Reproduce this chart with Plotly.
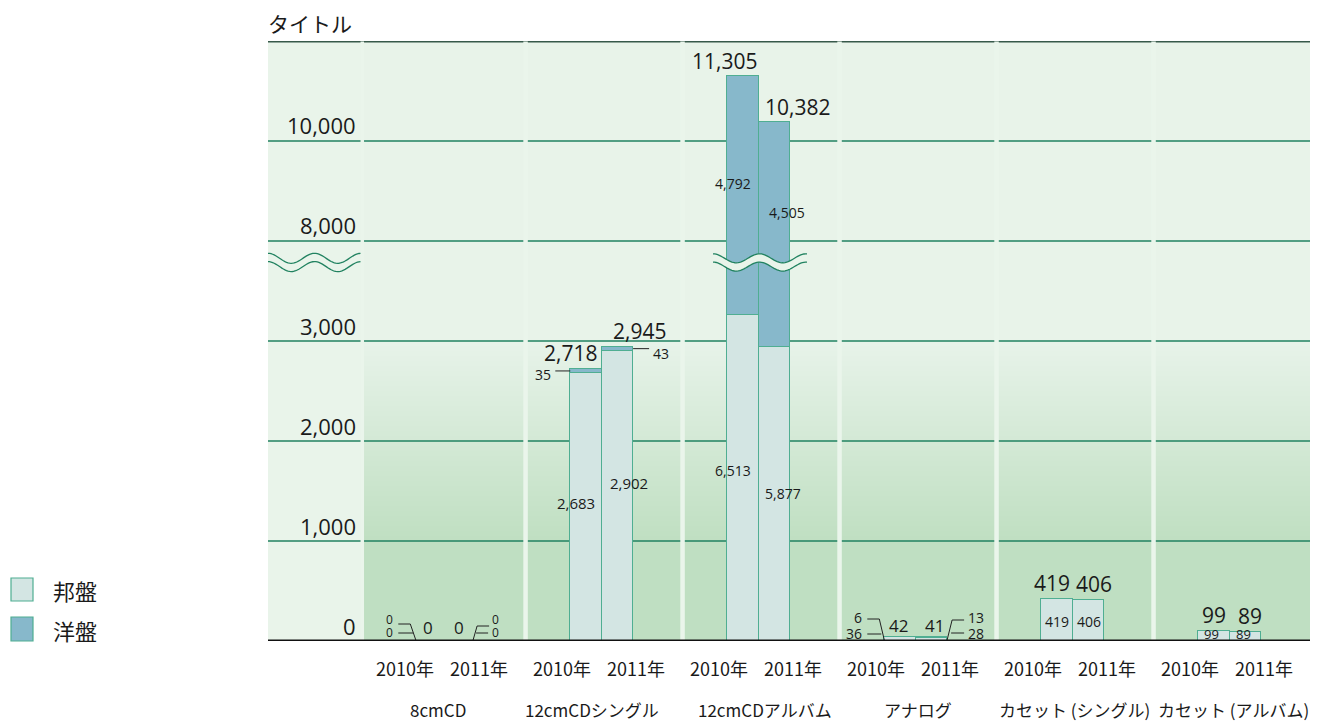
import math
import plotly.graph_objects as go

# ---------------- data ----------------
categories = ["8cmCD", "12cmCDシングル", "12cmCDアルバム", "アナログ",
              "カセット (シングル)", "カセット (アルバム)"]
years = ["2010年", "2011年"]
series_names = ["邦盤", "洋盤"]
domestic_2010 = [0, 2683, 6513, 36, 419, 99]
domestic_2011 = [0, 2902, 5877, 28, 406, 89]
foreign_2010 = [0, 35, 4792, 6, 0, 0]
foreign_2011 = [0, 43, 4505, 13, 0, 0]
y_ticks_lower = [0, 1000, 2000, 3000]      # drawn on the full scale
y_ticks_upper = [8000, 10000]              # drawn on the half scale (above the break)
y_top_upper = 12000
title_text = "タイトル"
upper_groups = [2]                          # categories drawn on the half scale

# ---------------- geometry / styles ----------------
PAGE_OFF = 8                     # default body margin of the html page
W, H = 1304, 714
ML, MT, PW, PH = 260, 33, 1042, 600
MR = W - ML - PW
MB = H - MT - PH
XMIN, XMAX = -1.1255, 5.5115
UX = (XMAX - XMIN) / PW          # x units per pixel
Y1MAX, Y2MAX = 6000, 12000
UY1, UY2 = Y1MAX / PH, Y2MAX / PH
BAR_W = 0.2
YEAR_OFF = [-0.1, 0.1]

C_DOM = "#d3e5e3"
C_FRN = "#87b8cb"
C_EDGE = "#4fae92"
C_GRID = "#218260"
C_TOPLINE = "#37594a"
C_LABELCOL = "#e9f4ea"
C_TOP = (0xe8, 0xf3, 0xe9)
C_BOT = (0xbf, 0xdf, 0xc2)
C_SEP = "#eaf5eb"
TXT = "#1a1a1a"
NUMFONT = "Open Sans"
JPFONT = "Noto Sans CJK JP"

dom = [domestic_2010, domestic_2011]
frn = [foreign_2010, foreign_2011]


def px_x(px):
    """page pixel x -> paper x"""
    return (px - PAGE_OFF - ML) / PW


def px_y(py):
    """page pixel y -> paper y"""
    return (MT + PH - (py - PAGE_OFF)) / PH


def axis_of(i):
    return "y2" if i in upper_groups else "y"


def unit_y(i):
    return UY2 if i in upper_groups else UY1


def bar_x(i, k):
    return i + YEAR_OFF[k]


def y2_to_y(v):
    return v * Y1MAX / Y2MAX


fig = go.Figure()

# ---------------- bars ----------------
lower_groups = [i for i in range(len(categories)) if i not in upper_groups]
for ax_name, groups in (("y", lower_groups), ("y2", upper_groups)):
    for name, vals, col in ((series_names[0], dom, C_DOM), (series_names[1], frn, C_FRN)):
        xs, ys = [], []
        for i in groups:
            for k in range(2):
                v = vals[k][i]
                xs.append(bar_x(i, k))
                ys.append(v if v else None)
        fig.add_trace(go.Bar(
            x=xs, y=ys, width=BAR_W, name=name, yaxis=ax_name,
            marker=dict(color=col, line=dict(color=C_EDGE, width=1)),
            showlegend=False, hoverinfo="skip"))

shapes = []
annotations = []

# ---------------- background ----------------
col_left = -0.525
shapes.append(dict(type="rect", xref="x", yref="y", x0=XMIN, x1=col_left, y0=0, y1=Y1MAX,
                   fillcolor=C_LABELCOL, line_width=0, layer="below"))
shapes.append(dict(type="rect", xref="x", yref="y", x0=col_left, x1=XMAX, y0=3000, y1=Y1MAX,
                   fillcolor="rgb(%d,%d,%d)" % C_TOP, line_width=0, layer="below"))
shapes.append(dict(type="rect", xref="x", yref="y", x0=col_left, x1=XMAX, y0=0, y1=1000,
                   fillcolor="rgb(%d,%d,%d)" % C_BOT, line_width=0, layer="below"))
NSTRIP = 40
for s in range(NSTRIP):
    t = (s + 0.5) / NSTRIP
    c = tuple(round(C_BOT[j] + (C_TOP[j] - C_BOT[j]) * t) for j in range(3))
    y0 = 1000 + 2000 * s / NSTRIP
    y1 = 1000 + 2000 * (s + 1) / NSTRIP
    shapes.append(dict(type="rect", xref="x", yref="y", x0=col_left, x1=XMAX, y0=y0, y1=y1 + 1,
                       fillcolor="rgb(%d,%d,%d)" % c, line_width=0, layer="below"))

# gridlines (all expressed on the full-scale axis so they share one layer)
for v in y_ticks_lower[1:]:
    shapes.append(dict(type="line", xref="x", yref="y", x0=XMIN, x1=XMAX, y0=v, y1=v,
                       line=dict(color=C_GRID, width=1.3), layer="below"))
for v in y_ticks_upper:
    shapes.append(dict(type="line", xref="x", yref="y", x0=XMIN, x1=XMAX,
                       y0=y2_to_y(v), y1=y2_to_y(v),
                       line=dict(color=C_GRID, width=1.3), layer="below"))
shapes.append(dict(type="line", xref="x", yref="y", x0=XMIN, x1=XMAX,
                   y0=y2_to_y(y_top_upper) - 6, y1=y2_to_y(y_top_upper) - 6,
                   line=dict(color=C_TOPLINE, width=1.6), layer="below"))

# column separators
seps = [(col_left, 3.5)] + [(i + 0.515, 4.5) for i in range(len(categories) - 1)]
for xc, wpx in seps:
    shapes.append(dict(type="rect", xref="x", yref="y", x0=xc - wpx / 2 * UX, x1=xc + wpx / 2 * UX,
                       y0=0, y1=Y1MAX - 4, fillcolor=C_SEP, line_width=0, layer="below"))

# baseline
shapes.append(dict(type="line", xref="paper", yref="y", x0=0, x1=1, y0=0, y1=0,
                   line=dict(color="#111111", width=3), layer="above"))


# ---------------- break symbols ----------------
def wave(x0, x1, yc, amp, period, n=60):
    pts = []
    for j in range(n + 1):
        x = x0 + (x1 - x0) * j / n
        pts.append((x, yc - amp * math.cos(2 * math.pi * (x - x0) / period)))
    return pts


def path_of(pts, close=False):
    s = "M " + " L ".join("%.5f,%.5f" % (px_x(x), px_y(y)) for x, y in pts)
    return s + (" Z" if close else "")


for (x0, x1, amp) in ((268, 360.5, 5.0), (713, 807, 4.5)):
    top = wave(x0, x1, 258.3, amp, 46.5)
    bot = wave(x0, x1, 266.6, amp, 46.5)
    shapes.append(dict(type="path", xref="paper", yref="paper",
                       path=path_of(top + bot[::-1], close=True),
                       fillcolor=C_LABELCOL, line_width=0, layer="above"))
    for pts in (top, bot):
        shapes.append(dict(type="path", xref="paper", yref="paper", path=path_of(pts),
                           line=dict(color=C_GRID, width=1.3), layer="above"))

# ---------------- axis labels ----------------
for v in y_ticks_lower:
    annotations.append(dict(x=px_x(358), xref="paper", y=v, yref="y", yshift=15,
                            text=f"{v:,}", showarrow=False, xanchor="right", yanchor="middle",
                            font=dict(family=NUMFONT, size=22, color=TXT)))
for v in y_ticks_upper:
    annotations.append(dict(x=px_x(358), xref="paper", y=v, yref="y2", yshift=16,
                            text=f"{v:,}", showarrow=False, xanchor="right", yanchor="middle",
                            font=dict(family=NUMFONT, size=22, color=TXT)))
annotations.append(dict(x=px_x(266), xref="paper", y=px_y(23), yref="paper", text=title_text,
                        showarrow=False, xanchor="left", yanchor="middle",
                        font=dict(family=JPFONT, size=21, color=TXT)))

# year and category labels
year_shift = [-39.5, 34.5]
cat_shift = [-7, -10, 6, 2, 2, 4]
for i, cat in enumerate(categories):
    for k in range(2):
        annotations.append(dict(x=i, xref="x", xshift=year_shift[k], y=px_y(668), yref="paper",
                                text=years[k], showarrow=False, xanchor="center", yanchor="middle",
                                font=dict(family=JPFONT, size=18, color=TXT)))
    annotations.append(dict(x=i, xref="x", xshift=cat_shift[i], y=px_y(709), yref="paper",
                            text=cat, showarrow=False, xanchor="center", yanchor="middle",
                            font=dict(family=JPFONT, size=17, color=TXT)))

# ---------------- value labels ----------------
total_xshift = [(-1, -1), (-16, 22), (-19, 23), (-2, 3), (-5, 6), (0, 5)]
total_yshift = [14, 16, 15, 11, 16, 16]
total_size = [17, 21, 21, 17, 21, 21]
for i in range(len(categories)):
    for k in range(2):
        tot = dom[k][i] + frn[k][i]
        annotations.append(dict(x=bar_x(i, k), xref="x", xshift=total_xshift[i][k],
                                y=tot, yref=axis_of(i), yshift=total_yshift[i],
                                text=f"{tot:,}", showarrow=False, xanchor="center", yanchor="middle",
                                font=dict(family=NUMFONT, size=total_size[i], color=TXT)))

# labels inside segments: (group, year, series, dx px, dy px, size)
inner = [(1, 0, "d", -10, 4, 15), (1, 1, "d", 12, 13, 15),
         (2, 0, "f", -10, 12, 14), (2, 1, "f", 13, 22, 14),
         (2, 0, "d", -10, 8, 14), (2, 1, "d", 9, 1, 14),
         (4, 0, "d", 0, -1.5, 14), (4, 1, "d", 1, -1, 14),
         (5, 0, "d", -3, 2, 13), (5, 1, "d", -1.5, 2.5, 13)]
for i, k, s, dx, dy, sz in inner:
    d, f = dom[k][i], frn[k][i]
    v = d if s == "d" else f
    mid = d / 2 if s == "d" else d + f / 2
    annotations.append(dict(x=bar_x(i, k), xref="x", xshift=dx, y=mid, yref=axis_of(i), yshift=dy,
                            text=f"{v:,}", showarrow=False, xanchor="center", yanchor="middle",
                            font=dict(family=NUMFONT, size=sz, color=TXT)))

# labels with leader lines: (group, year, series, anchor, text dx, text dy, size, leader pts px)
leaders = [
    (1, 0, "f", "mid", -17, -4, 14, [(0, 0), (-15, 0)]),
    (1, 1, "f", "mid", 18, -4.5, 14, [(0, 0), (16, 0)]),
    (0, 0, "f", "base", -18, 22, 12, [(-15, 17), (-3, 17), (2.5, 1)]),
    (0, 0, "d", "base", -18, 9, 12, [(-15, 8), (0, 8)]),
    (0, 1, "f", "base", 13.5, 22, 12, [(-3, 1), (1, 15), (13, 15)]),
    (0, 1, "d", "base", 13.5, 9, 12, [(0, 8), (12, 8)]),
    (3, 0, "f", "base", -20, 24, 14, [(-17, 22), (-5, 22), (0, 1)]),
    (3, 0, "d", "base", -20, 8, 14, [(-17, 7), (-3, 7)]),
    (3, 1, "f", "base", 19, 24, 14, [(0, 1), (5, 21), (17, 21)]),
    (3, 1, "d", "base", 19, 8, 14, [(4, 8), (17, 8)]),
]
for i, k, s, anc, tdx, tdy, sz, pts in leaders:
    d, f = dom[k][i], frn[k][i]
    v = d if s == "d" else f
    edge = bar_x(i, k) + (-BAR_W / 2 if k == 0 else BAR_W / 2)
    ay = (d + f / 2) if anc == "mid" else 0
    uy = unit_y(i)
    fig.add_trace(go.Scatter(
        x=[edge + px * UX for px, py in pts], y=[ay + py * uy for px, py in pts],
        mode="lines", line=dict(color="#222222", width=1), yaxis=axis_of(i),
        showlegend=False, hoverinfo="skip"))
    annotations.append(dict(x=edge, xref="x", xshift=tdx, y=ay, yref=axis_of(i), yshift=tdy,
                            text=f"{v:,}", showarrow=False,
                            xanchor="right" if k == 0 else "left", yanchor="middle",
                            font=dict(family=NUMFONT, size=sz, color=TXT)))

# ---------------- legend (manual) ----------------
leg = [(series_names[0], C_DOM, 578, 601, 590), (series_names[1], C_FRN, 617, 641, 630)]
for name, col, y0, y1, yc in leg:
    shapes.append(dict(type="rect", xref="paper", yref="paper", x0=px_x(11), x1=px_x(33),
                       y0=px_y(y1), y1=px_y(y0), fillcolor=col,
                       line=dict(color=C_EDGE, width=1.2), layer="above"))
    annotations.append(dict(x=px_x(51), xref="paper", y=px_y(yc), yref="paper", text=name,
                            showarrow=False, xanchor="left", yanchor="middle",
                            font=dict(family=JPFONT, size=22, color=TXT)))

fig.update_layout(
    width=W, height=H, autosize=False,
    margin=dict(l=ML, r=MR, t=MT, b=MB, pad=0),
    paper_bgcolor="white", plot_bgcolor="rgba(0,0,0,0)",
    barmode="stack", bargap=0, showlegend=False,
    xaxis=dict(range=[XMIN, XMAX], visible=False, fixedrange=True),
    yaxis=dict(range=[0, Y1MAX], visible=False, fixedrange=True),
    yaxis2=dict(range=[0, Y2MAX], overlaying="y", visible=False, fixedrange=True),
    shapes=shapes, annotations=annotations,
    font=dict(family=NUMFONT, color=TXT),
)

fig.write_html("out.html", config={"displayModeBar": False})
